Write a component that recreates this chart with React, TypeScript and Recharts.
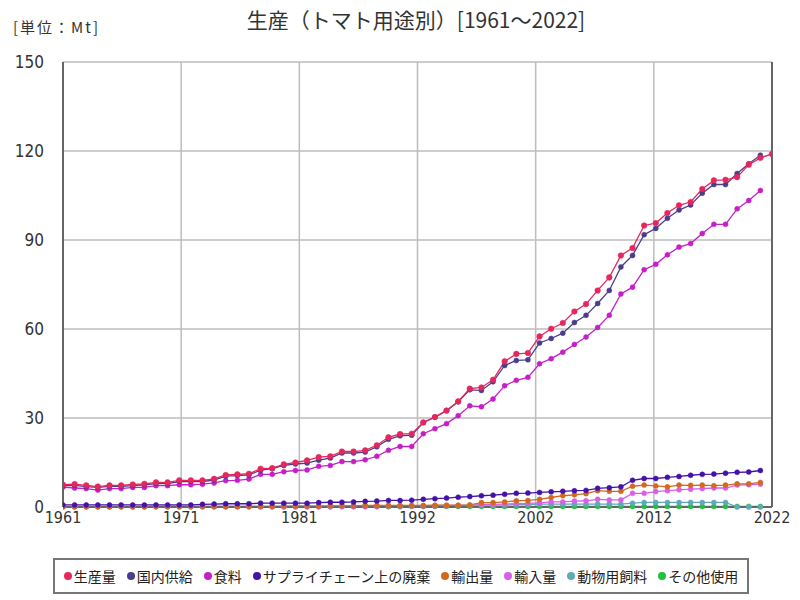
import React from 'react';
import {
  LineChart,
  Line,
  XAxis,
  YAxis,
  CartesianGrid,
  ReferenceLine
} from 'recharts';

// years 1961..2022
const years = [
  1961, 1962, 1963, 1964, 1965, 1966, 1967, 1968, 1969, 1970,
  1971, 1972, 1973, 1974, 1975, 1976, 1977, 1978, 1979, 1980,
  1981, 1982, 1983, 1984, 1985, 1986, 1987, 1988, 1989, 1990,
  1991, 1992, 1993, 1994, 1995, 1996, 1997, 1998, 1999, 2000,
  2001, 2002, 2003, 2004, 2005, 2006, 2007, 2008, 2009, 2010,
  2011, 2012, 2013, 2014, 2015, 2016, 2017, 2018, 2019, 2020,
  2021, 2022
];

const production = [
  7.5, 7.7, 7.3, 6.9, 7.3, 7.3, 7.6, 7.8, 8.3, 8.3,
  9.0, 9.0, 9.0, 9.5, 10.8, 11.0, 11.2, 12.9, 13.1, 14.4,
  15.0, 15.7, 16.8, 17.1, 18.7, 18.7, 19.1, 20.8, 23.5, 24.6,
  24.7, 28.5, 30.3, 32.5, 35.6, 39.9, 40.3, 42.9, 49.1, 51.6,
  51.9, 57.5, 60.1, 62.0, 65.9, 68.4, 73.0, 77.4, 84.8, 87.3,
  94.9, 95.7, 99.1, 101.7, 102.8, 107.2, 110.1, 110.3, 111.2, 115.4,
  117.7, 119.0
];

const domesticSupply = [
  7.2, 7.3, 6.9, 6.6, 7.0, 7.0, 7.2, 7.5, 7.9, 7.9,
  8.6, 8.6, 8.6, 9.1, 10.4, 10.6, 10.8, 12.4, 12.9, 14.0,
  14.5, 14.8, 15.8, 16.5, 18.2, 18.2, 18.5, 20.3, 22.8, 24.0,
  24.2, 28.5, 30.3, 32.5, 35.5, 39.5, 39.3, 42.2, 47.7, 49.4,
  49.6, 55.3, 56.8, 58.6, 62.2, 64.6, 68.6, 73.0, 80.9, 84.8,
  91.8, 93.9, 97.3, 100.1, 101.8, 105.8, 108.7, 108.7, 112.4, 115.7,
  118.6, null
];

const food = [
  6.7, 6.4, 6.2, 5.7, 6.2, 6.2, 6.6, 6.6, 7.2, 7.2,
  7.5, 7.5, 7.7, 8.1, 8.9, 9.0, 9.4, 11.0, 11.0, 11.9,
  12.3, 12.5, 13.7, 14.0, 15.3, 15.3, 15.9, 17.1, 19.1, 20.4,
  20.4, 24.7, 26.4, 28.1, 30.8, 34.1, 33.8, 36.4, 40.9, 42.7,
  43.7, 48.3, 50.0, 52.2, 54.8, 57.3, 60.5, 64.6, 71.8, 74.1,
  80.0, 81.8, 85.0, 87.6, 88.8, 92.2, 95.3, 95.3, 100.5, 103.3,
  106.7, null
];

const supplyChainWaste = [
  0.7, 0.7, 0.7, 0.7, 0.7, 0.7, 0.7, 0.7, 0.7, 0.7,
  0.7, 0.7, 0.9, 1.0, 1.1, 1.1, 1.1, 1.3, 1.3, 1.3,
  1.3, 1.3, 1.5, 1.6, 1.6, 1.7, 1.9, 2.0, 2.2, 2.2,
  2.3, 2.6, 2.8, 3.0, 3.3, 3.5, 3.8, 4.0, 4.3, 4.6,
  4.7, 4.9, 5.1, 5.3, 5.5, 5.6, 6.3, 6.5, 6.8, 9.0,
  9.6, 9.6, 10.0, 10.3, 10.7, 11.0, 11.1, 11.4, 11.7, 11.8,
  12.3, null
];

const exports = [
  0.1, 0.1, 0.1, 0.1, 0.1, 0.1, 0.1, 0.1, 0.2, 0.2,
  0.2, 0.2, 0.2, 0.2, 0.2, 0.2, 0.2, 0.2, 0.2, 0.3,
  0.3, 0.3, 0.3, 0.4, 0.4, 0.4, 0.5, 0.5, 0.5, 0.5,
  0.5, 0.5, 0.6, 0.6, 0.6, 0.7, 1.5, 1.5, 1.7, 2.1,
  2.2, 2.6, 3.2, 3.8, 4.1, 4.5, 5.5, 5.3, 5.3, 7.0,
  7.4, 7.1, 6.8, 7.4, 7.3, 7.4, 7.2, 7.4, 7.8, 7.8,
  8.3, null
];

const imports = [
  0.1, 0.1, 0.1, 0.1, 0.1, 0.1, 0.1, 0.1, 0.1, 0.1,
  0.1, 0.1, 0.1, 0.1, 0.1, 0.1, 0.1, 0.1, 0.1, 0.1,
  0.1, 0.1, 0.1, 0.1, 0.2, 0.2, 0.2, 0.2, 0.3, 0.3,
  0.3, 0.3, 0.3, 0.4, 0.4, 0.5, 0.8, 0.9, 1.0, 1.1,
  1.2, 1.4, 1.7, 1.7, 2.0, 2.1, 2.6, 2.4, 2.4, 4.6,
  4.6, 5.2, 5.5, 5.8, 6.0, 6.2, 6.4, 6.4, 7.4, 7.5,
  7.7, null
];

const animalFeed = [
  0.2, 0.2, 0.2, 0.2, 0.2, 0.2, 0.2, 0.2, 0.2, 0.2,
  0.2, 0.2, 0.2, 0.2, 0.2, 0.2, 0.2, 0.2, 0.2, 0.2,
  0.3, 0.3, 0.3, 0.3, 0.3, 0.4, 0.4, 0.4, 0.4, 0.4,
  0.4, 0.4, 0.5, 0.5, 0.5, 0.6, 0.6, 0.6, 0.7, 0.8,
  0.8, 1.0, 1.0, 1.0, 1.0, 1.0, 1.0, 1.0, 1.0, 1.3,
  1.55, 1.55, 1.55, 1.55, 1.55, 1.55, 1.55, 1.55, 0.0, 0.0,
  0.0, null
];

const otherUses = [
  0.1, 0.1, 0.1, 0.1, 0.1, 0.1, 0.1, 0.1, 0.1, 0.1,
  0.1, 0.1, 0.1, 0.1, 0.1, 0.1, 0.1, 0.1, 0.1, 0.1,
  0.1, 0.1, 0.1, 0.1, 0.1, 0.1, 0.1, 0.1, 0.1, 0.1,
  0.2, 0.2, 0.2, 0.2, 0.2, 0.2, 0.2, 0.2, 0.2, 0.2,
  0.2, 0.2, 0.2, 0.2, 0.2, 0.2, 0.2, 0.2, 0.2, 0.2,
  0.2, 0.2, 0.2, 0.2, 0.2, 0.2, 0.2, 0.2, 0.2, 0.2,
  0.2, null
];

const yTicks = [0, 30, 60, 90, 120, 150];
const xTickLabels = ['1961', '1971', '1981', '1992', '2002', '2012', '2022'];

// draw order: lowest first so production sits on top
const series = [
  { key: 'other', name: 'その他使用', color: '#22c03c', values: otherUses },
  { key: 'feed', name: '動物用飼料', color: '#5fa9b9', values: animalFeed },
  { key: 'imp', name: '輸入量', color: '#d95fe6', values: imports },
  { key: 'exp', name: '輸出量', color: '#d2691e', values: exports },
  { key: 'waste', name: 'サプライチェーン上の廃棄', color: '#4512a8', values: supplyChainWaste },
  { key: 'food', name: '食料', color: '#c520c5', values: food },
  { key: 'domestic', name: '国内供給', color: '#4a3d8c', values: domesticSupply },
  { key: 'prod', name: '生産量', color: '#e5275e', values: production },
];

const legendOrder = ['prod', 'domestic', 'food', 'waste', 'exp', 'imp', 'feed', 'other'];

const chartData = years.map((year, i) => {
  const row: Record<string, number | null> = { year };
  series.forEach(s => { row[s.key] = s.values[i]; });
  return row;
});

const first = years[0];
const last = years[years.length - 1];
const xTicks = xTickLabels.map((_, i) => first + (i * (last - first)) / (xTickLabels.length - 1));

const FONT = '"Noto Sans CJK JP", "Noto Sans", sans-serif';
const NUM_FONT = '"Liberation Sans Narrow", "DejaVu Sans Condensed", "Noto Sans CJK JP", sans-serif';

const App: React.FC = () => {
  return (
    <div style={{ position: 'absolute', left: 0, top: 0, width: 800, height: 600, background: '#fff', fontFamily: FONT }}>
      <div style={{ position: 'absolute', left: 13, top: 16, fontSize: 15, color: '#333', letterSpacing: 2 }}>[単位：Mt]</div>
      <div
        style={{
          position: 'absolute',
          left: 416,
          top: 4,
          transform: 'translateX(-50%)',
          whiteSpace: 'nowrap',
          fontSize: 21,
          color: '#333'
        }}
      >
        生産（トマト用途別）[1961～2022]
      </div>
      <LineChart
        width={800}
        height={600}
        data={chartData}
        margin={{ top: 62, right: 28, left: 0, bottom: 70 }}
      >
        <CartesianGrid stroke="#bdbdbd" strokeWidth={1.5} />
        <XAxis
          dataKey="year"
          type="number"
          domain={[first, last]}
          ticks={xTicks}
          tickFormatter={(v: number) => xTickLabels[xTicks.findIndex(t => Math.abs(t - v) < 0.01)] ?? String(Math.round(v))}
          interval={0}
          tick={{ fontSize: 16, fill: '#333', fontFamily: NUM_FONT }}
          axisLine={{ stroke: '#666', strokeWidth: 2 }}
          tickLine={false}
          tickSize={0}
          tickMargin={5}
          height={23}
          allowDataOverflow
        />
        <YAxis
          domain={[0, 150]}
          ticks={yTicks}
          interval={0}
          width={63}
          tick={{ fontSize: 17, fill: '#333', fontFamily: NUM_FONT }}
          axisLine={{ stroke: '#666', strokeWidth: 2 }}
          tickLine={false}
          tickSize={0}
          tickMargin={19}
        />
        <ReferenceLine x={last} stroke="#666" strokeWidth={2} />
        {series.map(s => (
          <Line
            key={s.key}
            dataKey={s.key}
            name={s.name}
            type="linear"
            stroke={s.color}
            strokeWidth={1.3}
            dot={{ r: s.key === 'prod' ? 2.8 : 2.5, fill: s.color, stroke: s.color, strokeWidth: 0.5 }}
            activeDot={false}
            connectNulls={false}
            isAnimationActive={false}
          />
        ))}
      </LineChart>
      <div
        style={{
          position: 'absolute',
          left: 53,
          top: 558,
          width: 692,
          height: 32,
          border: '2px solid #777',
          display: 'flex',
          alignItems: 'center',
          justifyContent: 'center',
          gap: 11,
          fontSize: 14,
          color: '#222',
          whiteSpace: 'nowrap'
        }}
      >
        {legendOrder.map(k => {
          const s = series.find(x => x.key === k)!;
          return (
            <span key={k} style={{ display: 'flex', alignItems: 'center' }}>
              <span style={{ display: 'inline-block', width: 8, height: 8, borderRadius: 4, background: s.color, marginRight: 2 }} />
              {s.name}
            </span>
          );
        })}
      </div>
    </div>
  );
};

export default App;
